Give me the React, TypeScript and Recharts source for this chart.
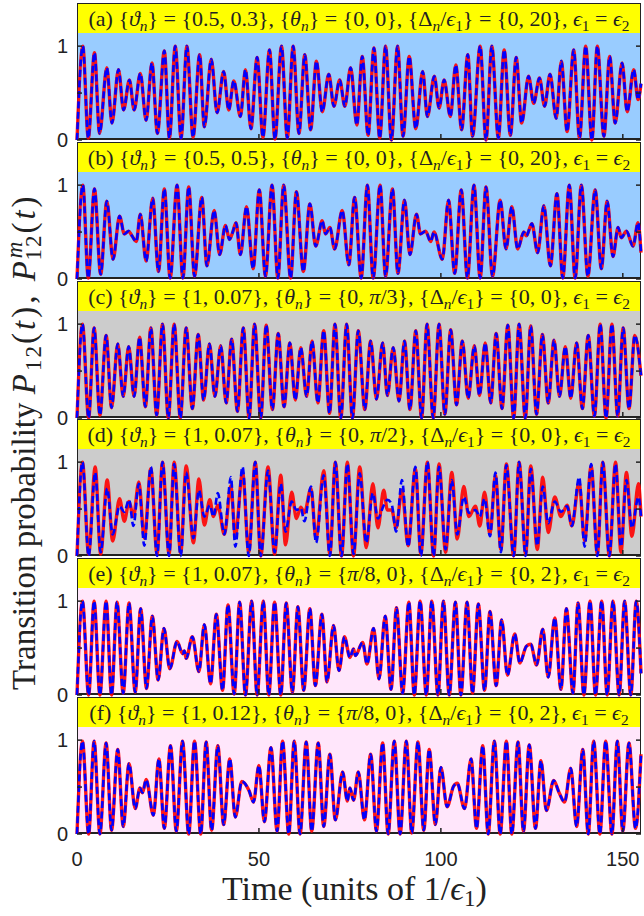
import React from 'react';
import { Line, LineChart, XAxis, YAxis } from 'recharts';

// extrema: time (units of 1/eps1) and transition probability
const tA = [0, 1.6, 3.1, 4.8, 6.2, 8.2, 9.6, 11.4, 12.8, 14.4, 15.7, 17.4, 19.0, 20.6, 22.1, 24.0, 25.4, 27.0, 28.6, 30.2, 31.9, 33.7, 35.0, 36.9, 38.5, 40.3, 41.7, 43.1, 44.9, 46.3, 47.8, 49.5, 51.1, 52.9, 54.4, 56.2, 57.8, 59.4, 61.0, 62.6, 64.2, 65.8, 67.4, 69.2, 70.6, 72.2, 73.6, 75.2, 76.9, 78.4, 80.0, 81.6, 83.2, 84.8, 86.4, 88.1, 89.6, 91.3, 93.1, 95.0, 96.3, 98.2, 99.5, 100.9, 102.6, 104.1, 105.7, 107.4, 108.7, 110.8, 112.4, 114.0, 115.8, 117.4, 119.1, 120.7, 122.2, 124.1, 125.5, 127.1, 128.5, 130.0, 131.7, 133.1, 134.7, 136.5, 138.1, 139.8, 141.5, 143.0, 144.8, 146.4, 147.9, 149.8, 151.2, 153.0, 154.2, 155];
const redA = [0, 1.0, 0.02, 0.93, 0.07, 0.77, 0.18, 0.75, 0.32, 0.64, 0.32, 0.71, 0.21, 0.82, 0.07, 0.95, 0.02, 1.0, 0.02, 1.0, 0.03, 0.91, 0.14, 0.86, 0.29, 0.73, 0.32, 0.63, 0.25, 0.75, 0.12, 0.88, 0.03, 0.96, 0.01, 1.0, 0.02, 1.0, 0.07, 0.91, 0.11, 0.84, 0.30, 0.70, 0.36, 0.64, 0.36, 0.77, 0.16, 0.89, 0.05, 0.98, 0.02, 1.0, 0.0, 1.0, 0.04, 0.89, 0.12, 0.73, 0.25, 0.68, 0.34, 0.64, 0.25, 0.80, 0.11, 0.91, 0.04, 1.0, 0.0, 1.0, 0.02, 0.96, 0.05, 0.88, 0.18, 0.68, 0.39, 0.66, 0.36, 0.70, 0.23, 0.84, 0.09, 0.96, 0.02, 1.0, 0.0, 1.0, 0.04, 0.89, 0.18, 0.82, 0.30, 0.75, 0.43, 0.6];
const blueA = redA; // dashed curve sits on the solid one

const tB = [0, 1.6, 3.1, 4.8, 6.5, 8.2, 9.9, 11.7, 13.0, 14.2, 15.1, 16.3, 17.4, 19.0, 20.8, 22.4, 24.0, 25.6, 27.5, 29.1, 30.7, 32.3, 34.3, 35.7, 37.7, 39.2, 40.8, 41.9, 42.8, 43.7, 44.9, 46.6, 48.4, 50.1, 51.8, 53.6, 55.2, 56.8, 58.7, 60.3, 62.2, 64.0, 65.6, 67.4, 68.3, 69.5, 70.8, 72.9, 74.7, 76.3, 78.1, 79.8, 81.4, 83.3, 84.8, 86.7, 88.2, 90.0, 91.5, 93.3, 94.4, 95.8, 97.2, 98.1, 100.4, 102.1, 103.8, 105.6, 107.3, 109.1, 110.8, 112.4, 114.2, 116.3, 117.9, 119.5, 121.1, 122.8, 123.5, 125.0, 126.6, 128.3, 130.1, 131.9, 133.5, 135.3, 136.9, 138.6, 140.4, 142.4, 144.1, 145.7, 147.3, 148.7, 149.6, 151.0, 152.8, 154.2, 155];
const redB = [0, 1.0, 0.01, 0.96, 0.05, 0.83, 0.21, 0.67, 0.48, 0.51, 0.46, 0.40, 0.69, 0.19, 0.86, 0.08, 0.96, 0.01, 1.0, 0.01, 0.98, 0.03, 0.87, 0.14, 0.73, 0.26, 0.57, 0.42, 0.50, 0.60, 0.26, 0.77, 0.11, 0.95, 0.03, 1.0, 0.01, 1.0, 0.01, 0.93, 0.08, 0.80, 0.35, 0.62, 0.48, 0.55, 0.32, 0.73, 0.15, 0.87, 0.01, 1.0, 0.01, 1.0, 0.03, 0.96, 0.06, 0.84, 0.26, 0.69, 0.48, 0.51, 0.40, 0.50, 0.21, 0.84, 0.06, 0.95, 0.01, 1.0, 0.01, 0.98, 0.03, 0.84, 0.32, 0.77, 0.32, 0.50, 0.46, 0.59, 0.28, 0.78, 0.14, 0.91, 0.01, 1.0, 0.01, 1.0, 0.03, 0.95, 0.11, 0.83, 0.24, 0.55, 0.44, 0.51, 0.35, 0.60, 0.28];
const blueB = redB;

const tC = [0, 1.5, 3.2, 4.7, 6.3, 8.0, 9.5, 11.2, 12.7, 14.2, 15.7, 17.2, 18.8, 20.3, 21.9, 23.5, 25.1, 26.7, 28.4, 30.0, 31.7, 33.3, 34.8, 36.4, 37.9, 39.5, 41.0, 42.5, 44.1, 45.7, 47.3, 48.8, 50.5, 52.0, 53.7, 55.3, 56.9, 58.5, 60.0, 61.5, 63.1, 64.6, 66.2, 67.8, 69.4, 70.9, 72.5, 74.1, 75.7, 77.3, 79.1, 80.7, 82.3, 84.0, 85.3, 86.9, 88.5, 90.0, 91.5, 93.1, 94.7, 96.2, 97.9, 99.5, 101.1, 102.7, 104.3, 105.9, 107.5, 109.2, 110.6, 112.2, 113.7, 115.2, 116.8, 118.4, 120.0, 121.5, 123.2, 124.7, 126.3, 127.9, 129.5, 131.1, 132.6, 134.2, 135.7, 137.3, 138.9, 140.5, 142.2, 143.8, 145.4, 147.0, 148.6, 150.1, 151.7, 153.3, 155];
const redC = [0, 1.0, 0.0, 0.96, 0.03, 0.88, 0.11, 0.79, 0.23, 0.76, 0.23, 0.86, 0.12, 0.96, 0.03, 1.0, 0.0, 1.0, 0.0, 0.96, 0.10, 0.89, 0.19, 0.79, 0.23, 0.77, 0.16, 0.84, 0.07, 0.96, 0.0, 1.0, 0.0, 0.99, 0.09, 0.90, 0.12, 0.80, 0.19, 0.75, 0.23, 0.82, 0.16, 0.93, 0.05, 1.0, 0.0, 1.0, 0.0, 0.93, 0.09, 0.82, 0.20, 0.80, 0.24, 0.75, 0.18, 0.82, 0.09, 0.93, 0.0, 1.0, 0.0, 1.0, 0.04, 0.94, 0.14, 0.82, 0.21, 0.77, 0.24, 0.80, 0.16, 0.90, 0.10, 0.99, 0.0, 1.0, 0.0, 0.98, 0.04, 0.89, 0.16, 0.83, 0.23, 0.76, 0.21, 0.80, 0.10, 0.88, 0.02, 1.0, 0.0, 1.0, 0.02, 0.96, 0.10, 0.88, 0.45];
const blueC = redC;

const tD = [0, 1.5, 3.2, 5.0, 6.5, 8.3, 9.8, 11.7, 13.0, 14.3, 15.5, 17.0, 18.5, 20.3, 22.0, 23.5, 25.3, 26.7, 28.5, 30.0, 32.0, 33.5, 35.0, 36.5, 37.5, 38.7, 40.5, 42.3, 43.5, 45.5, 47.2, 49.0, 50.5, 52.5, 54.3, 56.0, 57.3, 59.0, 60.3, 61.5, 62.5, 64.3, 65.7, 67.8, 69.5, 71.0, 72.7, 74.3, 76.0, 77.7, 79.5, 81.3, 82.7, 84.3, 85.3, 86.5, 87.7, 89.3, 91.0, 93.0, 94.5, 96.3, 98.0, 99.5, 101.3, 103.0, 104.5, 106.3, 107.7, 109.5, 110.7, 112.0, 113.5, 115.0, 116.5, 118.0, 120.0, 121.5, 123.3, 124.7, 126.5, 128.0, 129.5, 131.3, 133.0, 134.7, 136.0, 138.0, 139.5, 141.3, 143.0, 144.5, 146.3, 148.0, 149.5, 151.0, 152.5, 154.3, 155];
const redD = [0, 1.0, 0.02, 0.95, 0.02, 0.81, 0.16, 0.61, 0.37, 0.58, 0.42, 0.79, 0.19, 0.93, 0.02, 1.0, 0.02, 1.0, 0.03, 0.96, 0.14, 0.82, 0.33, 0.60, 0.42, 0.54, 0.23, 0.75, 0.21, 0.89, 0.04, 1.0, 0.0, 0.95, 0.02, 0.86, 0.12, 0.68, 0.40, 0.52, 0.46, 0.72, 0.18, 0.91, 0.02, 1.0, 0.0, 1.0, 0.0, 0.95, 0.09, 0.77, 0.30, 0.70, 0.49, 0.49, 0.30, 0.70, 0.11, 0.93, 0.02, 1.0, 0.0, 0.98, 0.04, 0.89, 0.18, 0.74, 0.42, 0.53, 0.32, 0.68, 0.23, 0.86, 0.07, 0.98, 0.0, 1.0, 0.02, 0.96, 0.07, 0.84, 0.25, 0.63, 0.42, 0.54, 0.32, 0.79, 0.16, 0.96, 0.02, 1.0, 0.0, 1.0, 0.04, 0.89, 0.21, 0.77, 0.42];
const blueD = [0, 1.0, 0.0, 0.89, 0.04, 0.72, 0.23, 0.53, 0.47, 0.60, 0.32, 0.77, 0.11, 0.95, 0.0, 1.0, 0.0, 0.98, 0.0, 0.89, 0.19, 0.70, 0.42, 0.54, 0.42, 0.67, 0.23, 0.84, 0.10, 0.95, 0.0, 1.0, 0.0, 0.91, 0.04, 0.77, 0.26, 0.58, 0.49, 0.51, 0.37, 0.74, 0.14, 0.86, 0.0, 1.0, 0.0, 0.98, 0.02, 0.88, 0.14, 0.67, 0.40, 0.54, 0.60, 0.55, 0.26, 0.81, 0.10, 0.95, 0.0, 1.0, 0.0, 0.95, 0.07, 0.81, 0.23, 0.63, 0.46, 0.49, 0.42, 0.61, 0.21, 0.89, 0.04, 0.97, 0.0, 1.0, 0.0, 0.93, 0.11, 0.74, 0.35, 0.58, 0.47, 0.53, 0.32, 0.84, 0.10, 0.98, 0.0, 1.0, 0.0, 0.98, 0.10, 0.81, 0.30, 0.63, 0.42];

const tE = [0, 1.5, 3.2, 4.7, 6.3, 8.0, 9.5, 11.0, 12.7, 14.3, 16.0, 17.5, 19.1, 20.7, 22.3, 23.9, 25.5, 27.5, 29.0, 29.5, 30.0, 31.7, 33.5, 35.0, 36.7, 38.3, 40.0, 41.5, 43.2, 44.7, 46.3, 48.0, 49.5, 51.2, 52.7, 54.3, 56.0, 57.5, 59.2, 60.7, 62.3, 64.0, 65.5, 67.3, 68.7, 70.5, 72.0, 73.5, 75.0, 76.0, 76.5, 78.5, 79.7, 81.5, 83.0, 84.7, 86.3, 87.8, 89.5, 91.2, 92.7, 94.3, 96.0, 97.5, 99.2, 100.7, 102.3, 104.0, 105.5, 107.2, 108.7, 110.3, 112.0, 113.5, 115.2, 116.7, 118.3, 120.3, 121.7, 123.5, 124.7, 126.3, 128.0, 129.5, 131.3, 133.0, 134.5, 136.3, 137.7, 139.3, 141.0, 142.5, 144.2, 145.7, 147.3, 149.0, 150.5, 152.2, 153.7, 155];
const redE = [0, 1.0, 0.0, 1.0, 0.0, 1.0, 0.0, 0.99, 0.02, 0.98, 0.03, 0.92, 0.07, 0.84, 0.16, 0.71, 0.28, 0.57, 0.44, 0.47, 0.39, 0.62, 0.25, 0.75, 0.12, 0.86, 0.05, 0.96, 0.01, 0.99, 0.0, 1.0, 0.0, 1.0, 0.0, 0.99, 0.0, 0.98, 0.03, 0.94, 0.05, 0.92, 0.10, 0.86, 0.14, 0.74, 0.26, 0.62, 0.40, 0.49, 0.42, 0.56, 0.33, 0.71, 0.17, 0.84, 0.06, 0.93, 0.02, 0.99, 0.0, 1.0, 0.0, 1.0, 0.0, 1.0, 0.0, 0.99, 0.0, 0.99, 0.02, 0.97, 0.05, 0.89, 0.10, 0.80, 0.21, 0.65, 0.34, 0.52, 0.54, 0.32, 0.70, 0.19, 0.82, 0.06, 0.92, 0.02, 0.98, 0.0, 1.0, 0.0, 1.0, 0.0, 1.0, 0.0, 1.0, 0.0, 1.0, 0.23];
const blueE = redE;

const tF = [0, 1.5, 3.2, 4.7, 6.3, 8.0, 9.5, 11.2, 12.7, 14.3, 16.0, 17.3, 18.0, 19.0, 21.0, 22.5, 24.0, 25.7, 27.3, 29.0, 30.7, 32.3, 34.0, 35.5, 37.0, 38.7, 40.3, 42.0, 43.5, 45.3, 47.3, 48.5, 50.0, 51.5, 53.3, 55.0, 56.5, 58.2, 59.7, 61.3, 63.0, 64.5, 66.3, 67.8, 69.5, 71.0, 73.0, 74.3, 75.0, 76.0, 77.3, 79.0, 80.7, 82.3, 84.0, 85.5, 87.2, 88.8, 90.5, 92.0, 93.7, 95.3, 96.8, 98.5, 100.0, 101.7, 103.5, 104.5, 106.5, 108.3, 109.8, 111.5, 113.0, 114.7, 116.3, 118.0, 119.5, 121.2, 122.7, 124.3, 126.0, 127.5, 129.0, 131.0, 132.5, 134.0, 135.7, 137.3, 139.0, 140.5, 142.0, 143.7, 145.3, 147.0, 148.5, 150.0, 151.7, 153.5, 155];
const redF = [0, 0.99, 0.0, 0.99, 0.0, 0.97, 0.04, 0.90, 0.08, 0.75, 0.27, 0.49, 0.44, 0.58, 0.20, 0.80, 0.06, 0.94, 0.03, 0.99, 0.0, 0.99, 0.0, 0.98, 0.04, 0.94, 0.10, 0.80, 0.18, 0.56, 0.46, 0.34, 0.73, 0.13, 0.92, 0.03, 0.99, 0.0, 0.99, 0.0, 0.98, 0.03, 0.97, 0.08, 0.85, 0.15, 0.66, 0.35, 0.49, 0.36, 0.66, 0.15, 0.85, 0.03, 0.97, 0.0, 0.99, 0.0, 0.99, 0.01, 0.98, 0.04, 0.90, 0.10, 0.71, 0.29, 0.51, 0.54, 0.27, 0.80, 0.06, 0.94, 0.0, 0.99, 0.0, 0.99, 0.0, 0.98, 0.03, 0.95, 0.06, 0.78, 0.25, 0.57, 0.44, 0.34, 0.70, 0.08, 0.90, 0.0, 0.99, 0.0, 0.99, 0.0, 0.99, 0.03, 0.97, 0.06, 0.85];
const blueF = redF;

const xTicks = [0, 50, 100, 150];
const yTicks = [0, 0.5, 1];

// panel titles: {vartheta_n}, {theta_n}, {Delta_n/eps_1}
const panelLetters = ['a', 'b', 'c', 'd', 'e', 'f'];
const varthetaVals = ['0.5, 0.3', '0.5, 0.5', '1, 0.07', '1, 0.07', '1, 0.07', '1, 0.12'];
const thetaVals = [['0', '0'], ['0', '0'], ['0', 'π/3'], ['0', 'π/2'], ['π/8', '0'], ['π/8', '0']];
const deltaVals = ['0, 20', '0, 20', '0, 0', '0, 0', '0, 2', '0, 2'];
const panelBg = ['#99ccff', '#99ccff', '#cccccc', '#cccccc', '#ffe6fb', '#ffe6fb'];

const W = 644;
const PLOT_L = 77;
const PLOT_R = 641;
const BAR_H = 30;
const PLOT_H = 107;
const PITCH = 138.8;
const FIRST_TOP = 3;
const Y_MAX = 1.14;
const X_LABEL_H = 40;
const PAD_H = 14;
const SERIF = '"Liberation Serif", "Times New Roman", serif';
const SANS = '"Liberation Sans", Arial, sans-serif';

const series = [
  [tA, redA, blueA],
  [tB, redB, blueB],
  [tC, redC, blueC],
  [tD, redD, blueD],
  [tE, redE, blueE],
  [tF, redF, blueF],
];

const build = (t: number[], r: number[], b: number[]) =>
  t.slice(0, Math.min(t.length, r.length, b.length)).map((x, i) => ({ t: x, red: r[i], blue: b[i] }));

const Sub = ({ children }: { children: React.ReactNode }) => (
  <sub style={{ fontSize: '0.7em', verticalAlign: '-0.3em', lineHeight: 0 }}>{children}</sub>
);

const MathVal = ({ v }: { v: string }) =>
  v.includes('π') ? (
    <>
      <i>π</i>
      {v.replace('π', '')}
    </>
  ) : (
    <>{v}</>
  );

const Title = ({ i }: { i: number }) => (
  <span>
    ({panelLetters[i]}) {'{'}
    <i>ϑ</i>
    <Sub>
      <i>n</i>
    </Sub>
    {'}'} = {'{'}
    {varthetaVals[i]}
    {'}'}, {'{'}
    <i>θ</i>
    <Sub>
      <i>n</i>
    </Sub>
    {'}'} = {'{'}
    <MathVal v={thetaVals[i][0]} />, <MathVal v={thetaVals[i][1]} />
    {'}'}, {'{'}Δ
    <Sub>
      <i>n</i>
    </Sub>
    /<i>ϵ</i>
    <Sub>1</Sub>
    {'}'} = {'{'}
    {deltaVals[i]}
    {'}'}, <i>ϵ</i>
    <Sub>1</Sub> = <i>ϵ</i>
    <Sub>2</Sub>
  </span>
);

const yTick = (p: any) => {
  const v = p.payload.value;
  return (
    <g>
      <line x1={PLOT_L} x2={PLOT_L + 5} y1={p.y} y2={p.y} stroke="#222" strokeWidth={1.5} />
      <line x1={PLOT_R - 5} x2={PLOT_R} y1={p.y} y2={p.y} stroke="#222" strokeWidth={1.5} />
      {v !== 0.5 && (
        <text x={PLOT_L - 9} y={p.y} textAnchor="end" dominantBaseline="central" fontSize={20} fontFamily={SANS} fill="#222">
          {v}
        </text>
      )}
    </g>
  );
};

const makeXTick = (withLabel: boolean) => (p: any) => {
  const v = p.payload.value;
  return (
    <g>
      {v !== 0 && <line x1={p.x} x2={p.x} y1={PLOT_H - 6} y2={PLOT_H} stroke="#222" strokeWidth={1.5} />}
      {withLabel && (
        <text x={p.x} y={PLOT_H + 25} textAnchor="middle" dominantBaseline="central" fontSize={20} fontFamily={SANS} fill="#222">
          {v}
        </text>
      )}
    </g>
  );
};

const Panel = ({ i }: { i: number }) => {
  const top = Math.round(FIRST_TOP + i * PITCH);
  const last = i === series.length - 1;
  const below = last ? X_LABEL_H : PAD_H;
  const [t, r, b] = series[i];
  const data = build(t, r, b);
  return (
    <>
      <div
        style={{
          position: 'absolute',
          left: PLOT_L,
          top,
          width: PLOT_R - PLOT_L,
          height: BAR_H + PLOT_H,
          background: panelBg[i],
          boxSizing: 'border-box',
          border: '1px solid #222',
          borderBottom: '2px solid #222',
        }}
      >
        <div
          style={{
            height: BAR_H - 1,
            background: '#ffff00',
            display: 'flex',
            alignItems: 'center',
            justifyContent: 'center',
            fontFamily: SERIF,
            fontSize: 22,
            color: '#222',
            whiteSpace: 'nowrap',
          }}
        >
          <Title i={i} />
        </div>
      </div>
      <div style={{ position: 'absolute', left: 0, top: top + BAR_H }}>
        <LineChart
          width={W}
          height={PLOT_H + below}
          data={data}
          margin={{ top: 0, right: W - PLOT_R, bottom: 0, left: 0 }}
        >
          <XAxis
            dataKey="t"
            type="number"
            domain={[0, 155]}
            ticks={xTicks}
            interval={0}
            axisLine={false}
            tickLine={false}
            height={below}
            tick={makeXTick(last)}
          />
          <YAxis
            type="number"
            domain={[0, Y_MAX]}
            ticks={yTicks}
            interval={0}
            width={PLOT_L}
            axisLine={false}
            tickLine={false}
            tick={yTick}
          />
          <Line
            dataKey="red"
            type="monotone"
            stroke="#ff0000"
            strokeWidth={3.4}
            strokeOpacity={0.9}
            dot={false}
            isAnimationActive={false}
          />
          <Line
            dataKey="blue"
            type="monotone"
            stroke="#0000ff"
            strokeWidth={2.6}
            strokeDasharray="7 3.5"
            dot={false}
            isAnimationActive={false}
          />
        </LineChart>
      </div>
    </>
  );
};

export default function App() {
  return (
    <div style={{ position: 'absolute', left: 0, top: 0, width: W, height: 916, background: '#fff', overflow: 'hidden' }}>
      {series.map((_, i) => (
        <Panel key={i} i={i} />
      ))}
      <svg width={W} height={916} style={{ position: 'absolute', left: 0, top: 0, pointerEvents: 'none' }}>
        <text x={222} y={900} textAnchor="start" fontFamily={SERIF} fontSize={34} fill="#222">
          Time (units of 1/<tspan fontStyle="italic">ϵ</tspan>
          <tspan fontSize={23} dy={6}>1</tspan>
          <tspan dy={-6}>)</tspan>
        </text>
        <text transform="translate(35, 690) rotate(-90)" textAnchor="start" fontFamily={SERIF} fontSize={33} fill="#222">
          Transition probability <tspan fontStyle="italic" letterSpacing={3}>P</tspan>
          <tspan fontSize={23} dy={6} letterSpacing={2}>12</tspan>
          <tspan dy={-6} letterSpacing={3}>(</tspan>
          <tspan fontStyle="italic" letterSpacing={3}>t</tspan>
          <tspan letterSpacing={3}>), </tspan>
          <tspan fontStyle="italic" letterSpacing={3}>P</tspan>
          <tspan fontSize={23} fontStyle="italic" dy={-13}>m</tspan>
          <tspan fontSize={23} dx={-19} dy={19} letterSpacing={2}>12</tspan>
          <tspan dy={-6} letterSpacing={3}>(</tspan>
          <tspan fontStyle="italic" letterSpacing={3}>t</tspan>)
        </text>
      </svg>
    </div>
  );
}
